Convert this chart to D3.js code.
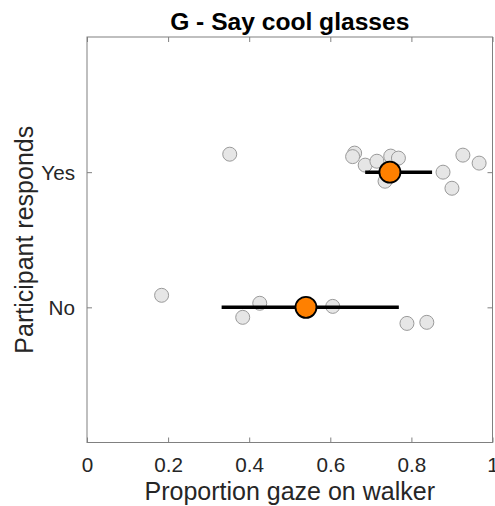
<!DOCTYPE html>
<html><head><meta charset="utf-8">
<script src="https://cdn.jsdelivr.net/npm/d3@7"></script>
<style>body{margin:0;background:#fff}svg{display:block}text{font-family:"Liberation Sans",Arial,sans-serif}</style>
</head><body><svg id="c" width="495" height="506"></svg>
<script>
const categories = ["No", "Yes"];
const xTicks = [0, 0.2, 0.4, 0.6, 0.8, 1];
const xTickLabels = ["0", "0.2", "0.4", "0.6", "0.8", "1"];
// individual participants: gaze proportion, category, vertical jitter (category units)
const yesX = [0.352, 0.660, 0.655, 0.686, 0.715, 0.749, 0.768, 0.735, 0.878, 0.900, 0.927, 0.967];
const yesJ = [0.133, 0.141, 0.115, 0.052, 0.081, 0.119, 0.104, -0.067, 0.0, -0.119, 0.126, 0.067];
const noX = [0.184, 0.384, 0.426, 0.606, 0.789, 0.838];
const noJ = [0.089, -0.074, 0.030, 0.007, -0.119, -0.111];
// group means and error ranges
const meanX = [0.540, 0.747];
const errLo = [0.332, 0.686];
const errHi = [0.769, 0.851];

const svg = d3.select("#c");
const L = 87, R = 492.5, T = 37, B = 442.5;
const x = d3.scaleLinear().domain([0, 1]).range([L, R]);
const y = d3.scaleLinear().domain([0, 3]).range([B, T]);
const catY = c => y(categories.indexOf(c) + 1);

const axisCol = "#808080", txtCol = "#262626";

// box
svg.append("rect").attr("x", L).attr("y", T).attr("width", R - L).attr("height", B - T)
  .attr("fill", "none").attr("stroke", axisCol).attr("stroke-width", 1);

// x axes (bottom & top) with inward ticks
const xb = d3.axisBottom(x).tickValues(xTicks).tickSize(-5).tickFormat((d, i) => xTickLabels[i]).tickPadding(14);
const gxb = svg.append("g").attr("transform", `translate(0,${B})`).call(xb);
const xt = d3.axisTop(x).tickValues(xTicks).tickSize(-5).tickFormat("");
const gxt = svg.append("g").attr("transform", `translate(0,${T})`).call(xt);
// y axes
const yl = d3.axisLeft(y).tickValues([1, 2]).tickSize(-5).tickFormat(d => categories[d - 1]).tickPadding(12);
const gyl = svg.append("g").attr("transform", `translate(${L},0)`).call(yl);
const yr = d3.axisRight(y).tickValues([1, 2]).tickSize(-5).tickFormat("");
const gyr = svg.append("g").attr("transform", `translate(${R},0)`).call(yr);
[gxb, gxt, gyl, gyr].forEach(g => {
  g.select(".domain").remove();
  g.selectAll(".tick line").attr("stroke", axisCol);
  g.selectAll(".tick text").attr("fill", txtCol).style("font-size", "20.7px");
});
gxb.selectAll(".tick text").attr("dy", null).attr("y", 29.5);
gyl.selectAll(".tick text").attr("dy", "0.36em");

// points
const pts = yesX.map((v, i) => ({x: v, c: "Yes", j: yesJ[i]}))
  .concat(noX.map((v, i) => ({x: v, c: "No", j: noJ[i]})));
svg.append("g").selectAll("circle").data(pts).join("circle")
  .attr("cx", d => x(d.x)).attr("cy", d => y(categories.indexOf(d.c) + 1 + d.j))
  .attr("r", 7).attr("fill", "#e6e6e6").attr("stroke", "#9a9a9a").attr("stroke-width", 1);

// error bars
svg.append("g").selectAll("line").data(categories).join("line")
  .attr("x1", (d, i) => x(errLo[i])).attr("x2", (d, i) => x(errHi[i]))
  .attr("y1", d => catY(d)).attr("y2", d => catY(d))
  .attr("stroke", "#000").attr("stroke-width", 3.5);
// means
svg.append("g").selectAll("circle").data(categories).join("circle")
  .attr("cx", (d, i) => x(meanX[i])).attr("cy", d => catY(d))
  .attr("r", 10.5).attr("fill", "#ff8000").attr("stroke", "#000").attr("stroke-width", 1.8);

// title and labels
svg.append("text").attr("x", (L + R) / 2).attr("y", 30).attr("text-anchor", "middle")
  .style("font-size", "24.6px").style("font-weight", "bold").attr("fill", "#000").text("G - Say cool glasses");
svg.append("text").attr("x", (L + R) / 2).attr("y", 500).attr("text-anchor", "middle")
  .style("font-size", "25px").attr("fill", txtCol).text("Proportion gaze on walker");
svg.append("text").attr("transform", `translate(33,${(T + B) / 2}) rotate(-90)`).attr("text-anchor", "middle")
  .style("font-size", "25px").attr("fill", txtCol).text("Participant responds");
</script></body></html>
